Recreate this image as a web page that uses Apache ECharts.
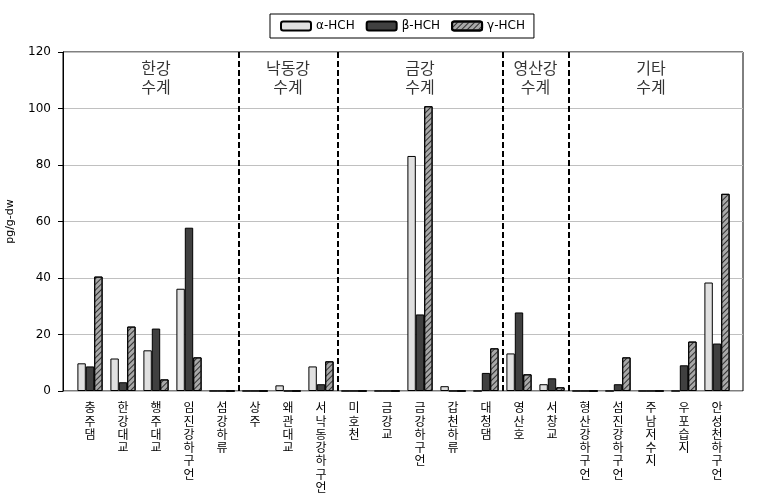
<!DOCTYPE html>
<html>
<head>
<meta charset="utf-8">
<script src="https://cdn.jsdelivr.net/npm/echarts@6/dist/echarts.min.js"></script>
<style>html,body{margin:0;padding:0;background:#fff}#c{width:770px;height:499px}</style>
</head>
<body>
<div id="c"></div>
<script>
var categories = ['충주댐','한강대교','행주대교','임진강하구언','섬강하류','상주','왜관대교','서낙동강하구언','미호천','금강교','금강하구언','갑천하류','대청댐','영산호','서창교','형산강하구언','섬진강하구언','주남저수지','우포습지','안성천하구언'];
var alphaHCH = [9.8, 11.5, 14.4, 36.2, 0, 0, 2.0, 8.7, 0, 0, 83.2, 1.7, 0, 13.3, 2.4, 0, 0, 0, 0, 38.4];
var betaHCH  = [8.7, 3.1, 22.1, 57.8, 0, 0, 0, 2.4, 0, 0, 27.1, 0, 6.4, 27.8, 4.5, 0, 2.4, 0, 9.1, 16.8];
var gammaHCH = [40.5, 22.8, 4.1, 11.9, 0, 0, 0, 10.5, 0, 0, 100.8, 0, 15.1, 5.9, 1.3, 0, 11.9, 0, 17.5, 69.8];
var seriesNames = ['α-HCH', 'β-HCH', 'γ-HCH'];
var yTicks = [0, 20, 40, 60, 80, 100, 120];
var groupNames = ['한강\n수계', '낙동강\n수계', '금강\n수계', '영산강\n수계', '기타\n수계'];
var groupBounds = [0, 5, 8, 13, 15, 20];
var groupLabelY = 111;

var font = '"Noto Sans CJK KR", sans-serif';
var chart = echarts.init(document.getElementById('c'), null, {renderer: 'canvas'});

var separators = groupBounds.slice(1, -1).map(function (b) { return {xAxis: b}; });
var groupLabels = groupNames.map(function (n, i) {
  return {value: [(groupBounds[i] + groupBounds[i + 1]) / 2, groupLabelY], name: n};
});

var barCommon = {
  type: 'bar', xAxisIndex: 1, yAxisIndex: 1,
  barWidth: 8.4, barGap: '0%'
};

chart.setOption({
  animation: false,
  backgroundColor: '#fff',
  legend: {
    data: seriesNames,
    left: 270, top: 14,
    borderColor: '#000', borderWidth: 1,
    padding: [6, 9, 6, 10],
    itemWidth: 30, itemHeight: 9, itemGap: 11,
    textStyle: {fontSize: 12, color: '#000', fontFamily: '"DejaVu Sans", sans-serif'}
  },
  grid: [
    {left: 63, top: 52, width: 680, height: 339, show: true, borderColor: '#000', borderWidth: 1, backgroundColor: 'transparent', outerBoundsMode: 'none', containLabel: false},
    {left: 73.5, top: 52, width: 660, height: 339, outerBoundsMode: 'none', containLabel: false}
  ],
  xAxis: [
    {type: 'value', gridIndex: 0, min: 0, max: 1, show: false},
    {type: 'category', gridIndex: 1, data: categories,
     axisLine: {show: false}, axisTick: {show: false},
     axisLabel: {interval: 0, margin: 10, color: '#000', fontSize: 12, lineHeight: 13.3, fontFamily: font,
       formatter: function (v) { return v.split('').join('\n'); }}},
    {type: 'value', gridIndex: 1, min: groupBounds[0], max: groupBounds[groupBounds.length - 1], show: false}
  ],
  yAxis: [
    {type: 'value', gridIndex: 0, min: yTicks[0], max: yTicks[yTicks.length - 1], interval: 20,
     name: 'pg/g-dw', nameLocation: 'middle', nameGap: 47,
     nameTextStyle: {fontSize: 11, color: '#000', fontFamily: '"DejaVu Sans", sans-serif'},
     axisLine: {show: true, lineStyle: {color: '#000'}},
     axisTick: {show: true, length: 5, lineStyle: {color: '#000'}},
     axisLabel: {margin: 12, color: '#000', fontSize: 12, fontFamily: '"DejaVu Sans", sans-serif'},
     splitLine: {show: true, lineStyle: {color: '#c0c0c0', width: 1}}},
    {type: 'value', gridIndex: 1, min: yTicks[0], max: yTicks[yTicks.length - 1], show: false}
  ],
  series: [
    Object.assign({}, barCommon, {name: seriesNames[0], data: alphaHCH,
      itemStyle: {color: '#e0e0e0', borderColor: '#000', borderWidth: 1}}),
    Object.assign({}, barCommon, {name: seriesNames[1], data: betaHCH,
      itemStyle: {color: '#404040', borderColor: '#000', borderWidth: 1}}),
    Object.assign({}, barCommon, {name: seriesNames[2], data: gammaHCH,
      itemStyle: {color: '#a8a8a8', borderColor: '#000', borderWidth: 1,
        decal: {symbol: 'rect', symbolSize: 1, dashArrayX: [1, 0], dashArrayY: [1, 3], rotation: -Math.PI / 4, color: '#303030'}}}),
    {type: 'line', xAxisIndex: 2, yAxisIndex: 1, data: [], silent: true,
     markLine: {symbol: 'none', silent: true, label: {show: false},
       lineStyle: {type: [6, 3], color: '#000', width: 2},
       data: separators}},
    {type: 'scatter', xAxisIndex: 2, yAxisIndex: 1, symbolSize: 0, silent: true,
     data: groupLabels,
     label: {show: true, position: 'inside', color: '#000', fontSize: 16, lineHeight: 19, fontFamily: font,
       formatter: function (p) { return p.name; }}}
  ]
});
</script>
</body>
</html>
